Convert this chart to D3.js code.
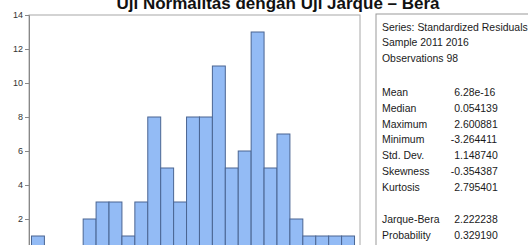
<!DOCTYPE html>
<html>
<head>
<meta charset="utf-8">
<script src="https://cdn.jsdelivr.net/npm/d3@7"></script>
<style>
  html, body { margin: 0; padding: 0; background: #fff; }
  svg { display: block; font-family: "Liberation Sans", Arial, sans-serif; }
</style>
</head>
<body>
<svg id="chart" width="528" height="245"></svg>
<script>
// ---- data ----
const title = "Uji Normalitas dengan Uji Jarque – Bera";
const binLower = [-3.5, -3.25, -3.0, -2.75, -2.5, -2.25, -2.0, -1.75, -1.5, -1.25,
                  -1.0, -0.75, -0.5, -0.25, 0.0, 0.25, 0.5, 0.75, 1.0, 1.25,
                  1.5, 1.75, 2.0, 2.25, 2.5];
const binWidth = 0.25;
const counts = [1, 0, 0, 0, 2, 3, 3, 1, 3, 8, 5, 3, 8, 8, 11, 5, 6, 13, 5, 7, 2, 1, 1, 1, 1];
const yTicks = [2, 4, 6, 8, 10, 12, 14];
const headerLines = ["Series: Standardized Residuals", "Sample 2011 2016", "Observations 98"];
const statLabels = ["Mean", "Median", "Maximum", "Minimum", "Std. Dev.", "Skewness", "Kurtosis"];
const statValues = ["6.28e-16", "0.054139", "2.600881", "-3.264411", "1.148740", "-0.354387", "2.795401"];
const testLabels = ["Jarque-Bera", "Probability"];
const testValues = ["2.222238", "0.329190"];

// ---- layout ----
const svg = d3.select("#chart");
const plot = { left: 29, right: 360, top: 15, bottom: 253 };

const x = d3.scaleLinear().domain([-3.548, 2.856]).range([plot.left, plot.right]);
const y = d3.scaleLinear().domain([0, 14]).range([plot.bottom, plot.top]);

// title
svg.append("text")
  .attr("x", 278).attr("y", 9)
  .attr("text-anchor", "middle")
  .attr("font-size", 17).attr("font-weight", "bold")
  .attr("fill", "#111")
  .text(title);

// plot frame
svg.append("rect")
  .attr("x", plot.left).attr("y", plot.top)
  .attr("width", plot.right - plot.left).attr("height", plot.bottom - plot.top)
  .attr("fill", "#fff").attr("stroke", "#a8a8a8").attr("stroke-width", 1);

// bars
const bins = binLower.map((b, i) => ({ x0: b, x1: b + binWidth, n: counts[i] }));
svg.append("g").selectAll("rect")
  .data(bins.filter(d => d.n > 0))
  .join("rect")
  .attr("x", d => x(d.x0))
  .attr("width", d => x(d.x1) - x(d.x0))
  .attr("y", d => y(d.n))
  .attr("height", d => y(0) - y(d.n))
  .attr("fill", "#93bbf5")
  .attr("stroke", "#4a6592")
  .attr("stroke-width", 1);

// y axis
const yAxis = d3.axisLeft(y).tickValues(yTicks).tickSize(4).tickPadding(2);
const gy = svg.append("g").attr("transform", `translate(${plot.left},0)`).call(yAxis);
gy.select(".domain").attr("stroke", "#888");
gy.selectAll(".tick line").attr("stroke", "#888");
gy.selectAll(".tick text").attr("font-size", 9).attr("fill", "#333")
  .attr("font-family", "Liberation Sans, Arial, sans-serif");

// stats box
svg.append("rect")
  .attr("x", 376).attr("y", 14)
  .attr("width", 170).attr("height", 260)
  .attr("fill", "#fff").attr("stroke", "#999").attr("stroke-width", 1);

const labelX = 382, decX = 460, fs = 11, sx = 0.95;
const tg = svg.append("g")
  .attr("transform", `translate(${labelX},0) scale(${sx},1)`)
  .attr("font-size", fs).attr("fill", "#1a1a1a");

const headerY = [31, 46.5, 62];
headerLines.forEach((t, i) => {
  tg.append("text").attr("x", 0).attr("y", headerY[i]).text(t);
});

const measurer = tg.append("text").attr("visibility", "hidden");
function prefixWidth(s) {
  const p = s.split(".")[0];
  measurer.text(p);
  return measurer.node().getComputedTextLength();
}

const decLocal = (decX - labelX) / sx;
function valueRow(label, value, yy) {
  tg.append("text").attr("x", 0).attr("y", yy).text(label);
  tg.append("text").attr("x", decLocal - prefixWidth(value)).attr("y", yy).text(value);
}

const statY0 = 96, step = 15.8;
statLabels.forEach((l, i) => valueRow(l, statValues[i], statY0 + i * step));
const testY0 = 223.3;
testLabels.forEach((l, i) => valueRow(l, testValues[i], testY0 + i * step));
measurer.remove();
</script>
</body>
</html>
